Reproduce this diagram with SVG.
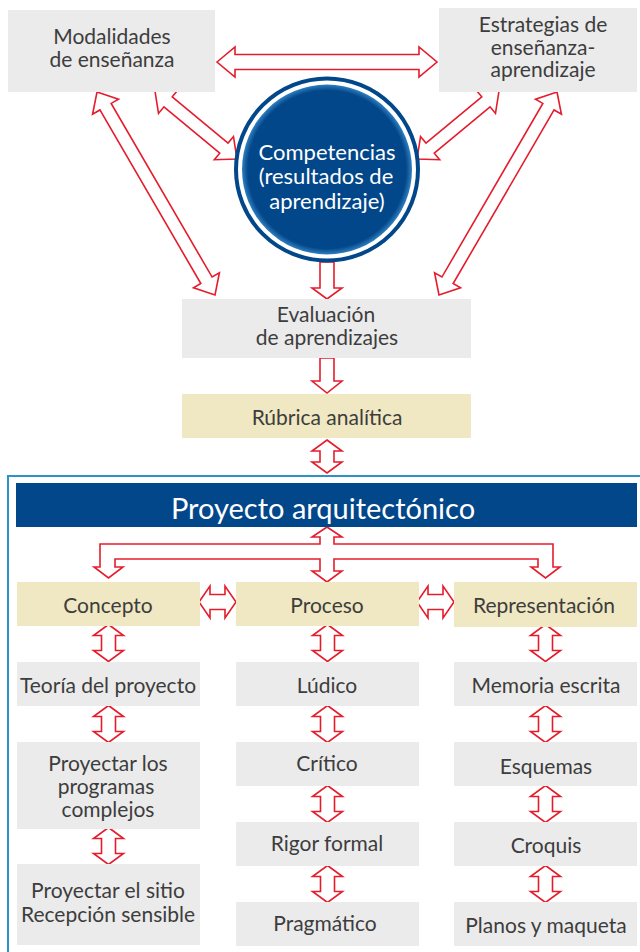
<svg xmlns="http://www.w3.org/2000/svg" xmlns:xlink="http://www.w3.org/1999/xlink" width="640" height="952" viewBox="0 0 640 952">
<style>
.gray{fill:#ebebeb}
.khaki{fill:#efe8c2}
.navy{fill:#02478a}
.t{font-family:Lato,"Open Sans","DejaVu Sans",sans-serif;font-size:21px;fill:#3d3d3d;text-anchor:middle}
.w{fill:#ffffff}
.c{font-size:22px}
.arr{fill:#ffffff;stroke:#e51c2c;stroke-width:1.6;stroke-linejoin:miter}
</style>
<defs>
<path id="vda" d="M0,0 L15,11 L7,11 L7,26 L15,26 L0,37 L-15,26 L-7,26 L-7,11 L-15,11 Z"/>
<path id="hda" d="M0,0 L11,-16 L11,-7.5 L26,-7.5 L26,-16 L37,0 L26,16 L26,7.5 L11,7.5 L11,16 Z"/>
<radialGradient id="cg" cx="50%" cy="50%" r="50%">
<stop offset="0%" stop-color="#02478a"/>
<stop offset="93%" stop-color="#02478a"/>
<stop offset="100%" stop-color="#2f7fc0"/>
</radialGradient>
</defs>

<g id="frame">
<path d="M8,952 V476 H640" fill="none" stroke="#2a93c7" stroke-width="2"/>
</g>

<g id="connectors">
<path class="arr" d="M217,62 L235,47 L235,54.5 L419,54.5 L419,47 L437,62 L419,77 L419,69.5 L235,69.5 L235,77 Z"/>
<path class="arr" transform="translate(97,92) rotate(59.83)" d="M0,0 L17,-15 L17,-6.5 L217.8,-6.5 L217.8,-15 L234.8,0 L217.8,15 L217.8,6.5 L17,6.5 L17,15 Z"/>
<path class="arr" transform="translate(155,91) rotate(39.67)" d="M0,0 L17,-15 L17,-6.5 L89.5,-6.5 L89.5,-15 L106.5,0 L89.5,15 L89.5,6.5 L17,6.5 L17,15 Z"/>
<path class="arr" transform="translate(499,91) rotate(140.33)" d="M0,0 L17,-15 L17,-6.5 L89.5,-6.5 L89.5,-15 L106.5,0 L89.5,15 L89.5,6.5 L17,6.5 L17,15 Z"/>
<path class="arr" transform="translate(557,92) rotate(120.17)" d="M0,0 L17,-15 L17,-6.5 L217.8,-6.5 L217.8,-15 L234.8,0 L217.8,15 L217.8,6.5 L17,6.5 L17,15 Z"/>
<path class="arr" d="M320,262 L334,262 L334,288 L342,288 L327,299 L312,288 L320,288 Z"/>
<path class="arr" d="M320,358 L334,358 L334,381 L342,381 L327,393 L312,381 L320,381 Z"/>
<path class="arr" d="M327,440 L342,451 L334,451 L334,462 L342,462 L327,473 L312,462 L320,462 L320,451 L312,451 Z"/>
<path class="arr" d="M327,527 L342,537 L334,537 L334,544 L553,544 L553,567 L560,567 L545.5,578 L531,567 L538,567 L538,559 L334,559 L334,571 L342,571 L327,582 L312,571 L320,571 L320,559 L115,559 L115,567 L123,567 L108.5,578 L94,567 L100,567 L100,544 L320,544 L320,537 L312,537 Z"/>
<use xlink:href="#hda" href="#hda" class="arr" x="199" y="602"/>
<use xlink:href="#hda" href="#hda" class="arr" x="417" y="602"/>
<use xlink:href="#vda" href="#vda" class="arr" x="108.5" y="624.5"/>
<use xlink:href="#vda" href="#vda" class="arr" x="108.5" y="705.5"/>
<use xlink:href="#vda" href="#vda" class="arr" x="108.5" y="827.5"/>
<use xlink:href="#vda" href="#vda" class="arr" x="327.5" y="624.5"/>
<use xlink:href="#vda" href="#vda" class="arr" x="327.5" y="705.5"/>
<use xlink:href="#vda" href="#vda" class="arr" x="327.5" y="785.5"/>
<use xlink:href="#vda" href="#vda" class="arr" x="327.5" y="865.5"/>
<use xlink:href="#vda" href="#vda" class="arr" x="545.5" y="624.5"/>
<use xlink:href="#vda" href="#vda" class="arr" x="545.5" y="705.5"/>
<use xlink:href="#vda" href="#vda" class="arr" x="545.5" y="785.5"/>
<use xlink:href="#vda" href="#vda" class="arr" x="545.5" y="865.5"/>
</g>

<g id="modalidades">
<rect class="gray" x="8" y="10" width="207" height="82"/>
<text class="t"><tspan x="112" y="44">Modalidades</tspan><tspan x="112" y="67">de enseñanza</tspan></text>
</g>
<g id="estrategias">
<rect class="gray" x="439" y="8" width="198" height="84"/>
<text class="t"><tspan x="543" y="32">Estrategias de</tspan><tspan x="543" y="54.5">enseñanza-</tspan><tspan x="543" y="77">aprendizaje</tspan></text>
</g>
<g id="competencias">
<circle cx="327" cy="169.5" r="91" fill="#ffffff" stroke="#02478a" stroke-width="4"/>
<circle cx="327" cy="169.5" r="85" fill="url(#cg)"/>
<text class="t w c"><tspan x="327" y="159.5">Competencias</tspan><tspan x="326" y="184">(resultados de</tspan><tspan x="327" y="208.5">aprendizaje)</tspan></text>
</g>
<g id="evaluacion">
<rect class="gray" x="182" y="299" width="289" height="59"/>
<text class="t"><tspan x="326" y="322">Evaluación</tspan><tspan x="327" y="345">de aprendizajes</tspan></text>
</g>
<g id="rubrica">
<rect class="khaki" x="182" y="394" width="289" height="44"/>
<text class="t" x="327" y="425">Rúbrica analítica</text>
</g>
<g id="proyecto">
<rect class="navy" x="16" y="483" width="621" height="44"/>
<text class="t w" x="323" y="519" style="font-size:29px">Proyecto arquitectónico</text>
</g>
<g id="concepto">
<rect class="khaki" x="17" y="582" width="183" height="44"/>
<text class="t" x="108" y="613">Concepto</text>
</g>
<g id="proceso">
<rect class="khaki" x="236" y="582" width="183" height="44"/>
<text class="t" x="327" y="613">Proceso</text>
</g>
<g id="representacion">
<rect class="khaki" x="454" y="582" width="183" height="45"/>
<text class="t" x="544" y="613">Representación</text>
</g>
<g id="teoria">
<rect class="gray" x="17" y="662" width="183" height="44"/>
<text class="t" x="108" y="693">Teoría del proyecto</text>
</g>
<g id="programas">
<rect class="gray" x="17" y="742" width="183" height="87"/>
<text class="t"><tspan x="108" y="771">Proyectar los</tspan><tspan x="106" y="794">programas</tspan><tspan x="108" y="817">complejos</tspan></text>
</g>
<g id="sitio">
<rect class="gray" x="17" y="864" width="183" height="81"/>
<text class="t"><tspan x="108" y="898">Proyectar el sitio</tspan><tspan x="108" y="922">Recepción sensible</tspan></text>
</g>
<g id="ludico">
<rect class="gray" x="236" y="662" width="183" height="44"/>
<text class="t" x="327" y="693">Lúdico</text>
</g>
<g id="critico">
<rect class="gray" x="236" y="742" width="183" height="44"/>
<text class="t" x="327" y="771">Crítico</text>
</g>
<g id="rigor">
<rect class="gray" x="236" y="822" width="183" height="44"/>
<text class="t" x="327" y="851">Rigor formal</text>
</g>
<g id="pragmatico">
<rect class="gray" x="236" y="902" width="183" height="44"/>
<text class="t" x="325" y="931">Pragmático</text>
</g>
<g id="memoria">
<rect class="gray" x="454" y="662" width="183" height="44"/>
<text class="t" x="546" y="693">Memoria escrita</text>
</g>
<g id="esquemas">
<rect class="gray" x="454" y="742" width="183" height="44"/>
<text class="t" x="546" y="774">Esquemas</text>
</g>
<g id="croquis">
<rect class="gray" x="454" y="822" width="183" height="44"/>
<text class="t" x="546" y="853">Croquis</text>
</g>
<g id="planos">
<rect class="gray" x="454" y="902" width="183" height="44"/>
<text class="t" x="546" y="933">Planos y maqueta</text>
</g>
</svg>
